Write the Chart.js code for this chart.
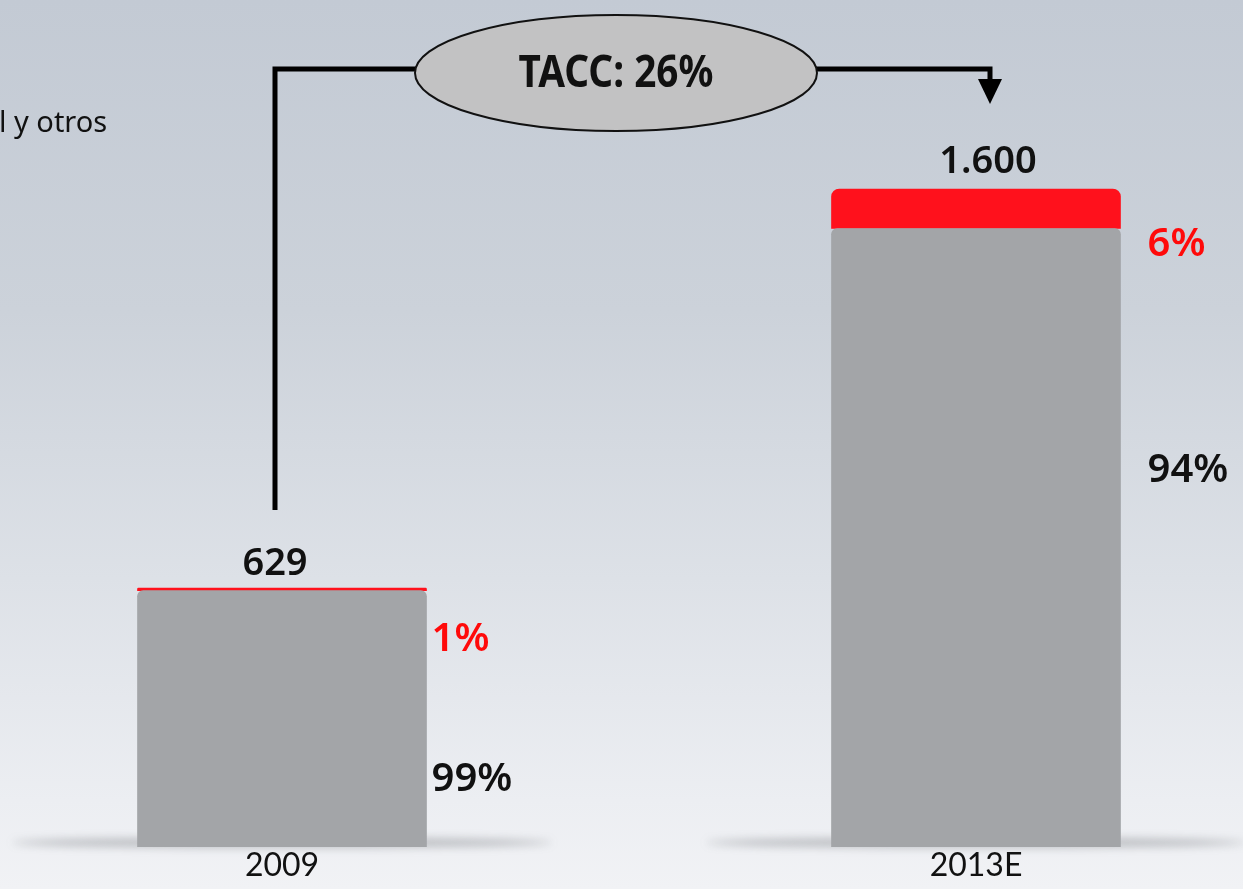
<!DOCTYPE html>
<html lang="es">
<head>
<meta charset="UTF-8">
<title>TACC 2009-2013E</title>
<script src="https://cdn.jsdelivr.net/npm/chart.js@4.4.0/dist/chart.umd.min.js"></script>
<style>
  html, body { margin: 0; padding: 0; }
  body {
    width: 1243px; height: 889px; overflow: hidden;
    background: linear-gradient(to bottom, #c3cad4 0%, #ccd2da 35%, #dde1e7 65%, #eceef2 90%, #f1f2f5 100%);
  }
  canvas { display: block; }
</style>
</head>
<body>
<canvas id="chart" width="1243" height="889"></canvas>
<script>
// data
const years = ['2009', '2013E'];
const totals = [629, 1600];
const shareGray = [99, 94];   // %
const shareRed = [1, 6];      // %
const growthLabel = 'TACC: 26%';
const legendText = 'l y otros';

const grayValues = totals.map((t, i) => t * shareGray[i] / 100);
const redValues = totals.map((t, i) => t * shareRed[i] / 100);

// 1600 -> "1.600"
const fmt = n => String(n).replace(/\B(?=(\d{3})+(?!\d))/g, '.');

// shadows under the bars
const baseShadow = {
  id: 'baseShadow',
  beforeDatasetsDraw(chart) {
    const ctx = chart.ctx;
    chart.getDatasetMeta(0).data.forEach(bar => {
      const w = bar.width / 2;
      ctx.save();
      ctx.filter = 'blur(4px)';
      ctx.fillStyle = 'rgba(90,92,98,0.35)';
      ctx.beginPath();
      ctx.ellipse(bar.x, bar.base - 4, w + 125, 5, 0, 0, Math.PI * 2);
      ctx.fill();
      ctx.restore();
    });
  }
};

// totals above, shares at the right of each bar
const barLabels = {
  id: 'barLabels',
  afterDatasetsDraw(chart, args, opts) {
    const ctx = chart.ctx;
    const gray = chart.getDatasetMeta(0).data;
    const red = chart.getDatasetMeta(1).data;
    ctx.save();
    ctx.textBaseline = 'middle';
    gray.forEach((bar, i) => {
      const o = opts.offsets[i];
      const top = red[i].y;
      const right = bar.x + bar.width / 2;
      ctx.font = '600 38px "Noto Sans"';
      ctx.fillStyle = '#111';
      ctx.textAlign = 'center';
      ctx.fillText(fmt(totals[i]), bar.x + o.totalDx, top + o.total);
      ctx.textAlign = 'left';
      ctx.font = '600 40px "Noto Sans"';
      ctx.fillStyle = '#ff0a0a';
      ctx.fillText(shareRed[i] + '%', right + o.dx, top + o.red);
      ctx.fillStyle = '#111';
      ctx.fillText(shareGray[i] + '%', right + o.dx, bar.base + o.gray);
    });
    ctx.restore();
  }
};

// TACC bracket, ellipse and arrow
const growthArrow = {
  id: 'growthArrow',
  afterDraw(chart) {
    const ctx = chart.ctx;
    const bars = chart.getDatasetMeta(0).data;
    const x1 = bars[0].x - 7, x2 = bars[1].x + 14;
    const cy = 73, lineY = 69, cx = 616, rx = 201, ry = 58;
    ctx.save();
    ctx.strokeStyle = '#000';
    ctx.lineWidth = 5;
    ctx.beginPath();
    ctx.moveTo(x1, 510);
    ctx.lineTo(x1, lineY);
    ctx.lineTo(cx - rx + 4, lineY);
    ctx.stroke();
    ctx.beginPath();
    ctx.moveTo(cx + rx - 4, lineY);
    ctx.lineTo(x2, lineY);
    ctx.lineTo(x2, 82);
    ctx.stroke();
    ctx.fillStyle = '#000';
    ctx.beginPath();
    ctx.moveTo(x2 - 12, 79);
    ctx.lineTo(x2 + 12, 79);
    ctx.lineTo(x2, 104);
    ctx.closePath();
    ctx.fill();

    ctx.beginPath();
    ctx.ellipse(cx, cy, rx, ry, 0, 0, Math.PI * 2);
    ctx.fillStyle = '#c2c2c3';
    ctx.fill();
    ctx.lineWidth = 2;
    ctx.strokeStyle = '#111';
    ctx.stroke();

    // condensed bold label
    ctx.save();
    ctx.translate(cx, cy + 1);
    ctx.scale(0.88, 1);
    ctx.fillStyle = '#111';
    ctx.textAlign = 'center';
    ctx.textBaseline = 'middle';
    ctx.font = 'bold 44px "Noto Sans"';
    ctx.fillText(growthLabel, 0, 0);
    ctx.restore();

    // cut-off legend entry at top left
    ctx.fillStyle = '#111';
    ctx.textAlign = 'left';
    ctx.textBaseline = 'middle';
    ctx.font = '29px "Noto Sans"';
    ctx.fillText(legendText, -1, 124);
    ctx.restore();
  }
};

new Chart(document.getElementById('chart'), {
  type: 'bar',
  data: {
    labels: years,
    datasets: [
      {
        label: 'Resto',
        data: grayValues,
        backgroundColor: '#a3a5a8',
        borderRadius: { topLeft: 6, topRight: 6 },
        borderSkipped: 'bottom',
        barThickness: 289,
        clip: false
      },
      {
        label: legendText,
        data: redValues,
        backgroundColor: '#ff111c',
        borderRadius: { topLeft: 8, topRight: 8 },
        borderSkipped: 'bottom',
        barThickness: 289,
        clip: false
      }
    ]
  },
  options: {
    responsive: false,
    animation: false,
    layout: { padding: { left: 282, right: 267, top: 0, bottom: 4 } },
    plugins: {
      legend: { display: false },
      tooltip: { enabled: false },
      barLabels: {
        offsets: [
          { dx: 5, red: 52, gray: -67, total: -24, totalDx: -7 },
          { dx: 27, red: 56, gray: -376, total: -27, totalDx: 12 }
        ]
      }
    },
    scales: {
      x: {
        stacked: true,
        offset: false,
        grid: { display: false, drawTicks: false },
        border: { display: false },
        ticks: {
          autoSkip: false,
          maxRotation: 0,
          padding: 0,
          color: '#111',
          font: { family: 'Lato', size: 32 }
        }
      },
      y: {
        stacked: true,
        display: false,
        min: 0,
        max: 2060
      }
    }
  },
  plugins: [baseShadow, barLabels, growthArrow]
});
</script>
</body>
</html>
